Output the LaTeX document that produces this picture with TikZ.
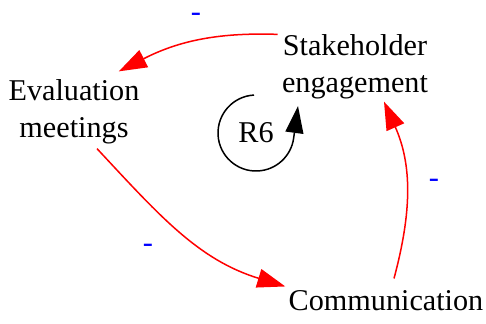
\documentclass[tikz,border=0pt]{standalone}
\usepackage{fontspec}
\setmainfont{Liberation Serif}
\usetikzlibrary{arrows.meta,calc}

\begin{document}
\begin{tikzpicture}[
    var/.style={inner sep=0pt, align=center, font=\fontsize{15.1}{18.5}\selectfont},
    link/.style={red, line width=0.75pt, -{Triangle[length=14pt,width=9.5pt]}},
    sign/.style={inner sep=0pt, blue, font=\fontsize{15.2}{18}\selectfont},
  ]

    \useasboundingbox (-177.5pt,-128pt) rectangle (65.5pt,33.5pt);

    \node[var] (se) at (0,0) {Stakeholder\\engagement};

    \node[var] (ev) at ($(se)+(-140.5pt,-22.5pt)$) {Evaluation\\meetings};

    \node[var] (cm) at ($(se)+(15.5pt,-117pt)$) {Communication};

    \node[var] (r6) at ($(se)+(-49.5pt,-33pt)$) {R6};

    \node[sign] (s1) at ($(se)+(-79.5pt,25pt)$) {-};
    \node[sign] (s2) at ($(se)+(-103.5pt,-90.5pt)$) {-};
    \node[sign] (s3) at ($(se)+(39.5pt,-58pt)$) {-};

    \draw[link] ($(se.north west)+(-2pt,0)$) to[out=178, in=27] ($(ev.north east)+(-10.5pt,4pt)$);
    \draw[link] ($(ev.south)+(11.5pt,-2pt)$) to[out=-47, in=163] ($(cm.north west)+(-1.5pt,2pt)$);
    \draw[link] ($(cm.north)+(4pt,6pt)$) to[out=75, in=-66] ($(se.south)+(14.5pt,-1pt)$);

    \draw[line width=0.75pt, -{Triangle[length=13.5pt,width=9pt]}]
      ($(r6)+(93:19pt)$) arc[start angle=93, end angle=352, radius=19pt]
      -- ($(r6)+(21pt,13.5pt)$);

\end{tikzpicture}
\end{document}
